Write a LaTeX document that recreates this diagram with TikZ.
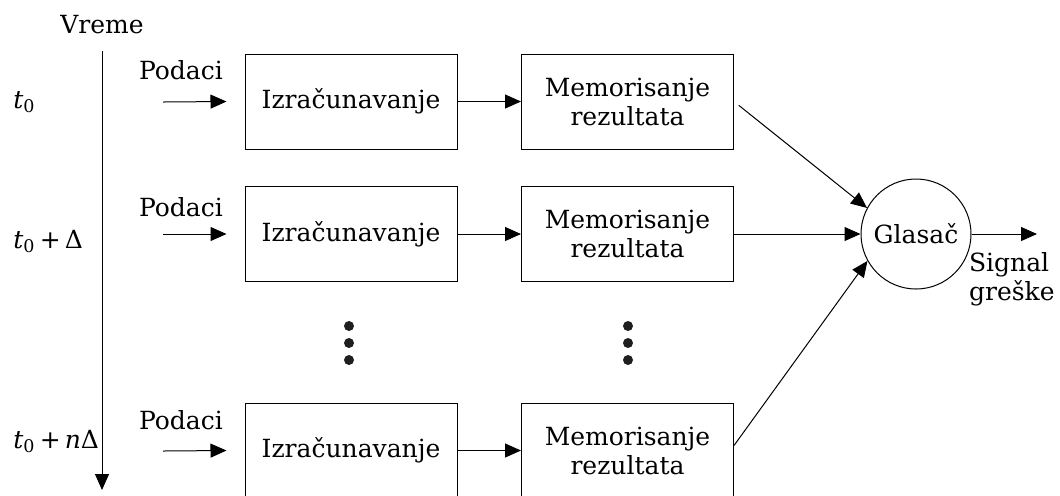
\documentclass[tikz,border=0pt]{standalone}
\usepackage{fontspec}
\setmainfont{DejaVu Serif}
\usetikzlibrary{arrows.meta}

\tikzset{
  blok/.style={draw, line width=0.5pt, minimum width=106pt, minimum height=47.5pt, align=center, inner sep=2pt},
  glasac/.style={draw, circle, line width=0.5pt, minimum size=55pt, inner sep=0pt},
  tacka/.style={circle, fill=black!88, minimum size=5pt, inner sep=0pt},
  strel/.style={-{Triangle[length=8pt,width=7pt]}, line width=0.5pt},
}

\begin{document}
\begin{tikzpicture}[x=0.5pt, y=-0.5pt, font=\fontsize{12.5}{14.5}\selectfont]
  \useasboundingbox (0,0) rectangle (1060,495);
  % vremenska osa i oznake
  \draw
    (102,33) node[anchor=base] (vreme){Vreme}
    (13,108) node[anchor=base west, inner sep=0pt] (t1){\textit{t}\textsubscript{0}}
    (13,248) node[anchor=base west, inner sep=0pt] (t2){\textit{t}\textsubscript{0}\,+\,Δ}
    (13,448) node[anchor=base west, inner sep=0pt] (tn){\textit{t}\textsubscript{0}\,+\,\textit{n}Δ};
  \coordinate (os1) at (102,51);
  \coordinate (os2) at (102,490);
  % ulazi
  \draw
    (181,79) node[anchor=base] (pod1){Podaci}
    (181,216) node[anchor=base] (pod2){Podaci}
    (181,429) node[anchor=base] (podn){Podaci};
  \coordinate (ul1) at (163,102);
  \coordinate (ul2) at (163,234);
  \coordinate (uln) at (163,451);
  % blokovi
  \draw
    (351,101.5) node[blok] (rac1){Izračunavanje}
    (351,234) node[blok] (rac2){Izračunavanje}
    (351,450.5) node[blok] (racn){Izračunavanje}
    (627.5,101.5) node[blok] (mem1){Memorisanje\\rezultata}
    (627.5,234) node[blok] (mem2){Memorisanje\\rezultata}
    (627.5,450.5) node[blok] (memn){Memorisanje\\rezultata}
    (916,234) node[glasac] (glas){Glasač}
    (1055,252) node[anchor=north east, align=left, inner sep=0pt] (greska){Signal\\greške};
  \coordinate (izlaz) at (1037,234);
  % tackice
  \foreach \x/\n in {349/a,628/b}
    \foreach \y/\m in {326/1,343/2,360/3}
      \node[tacka] (dot\n\m) at (\x,\y) {};
  \begin{scope}[strel]
    \draw (os1) to (os2);
    \draw (ul1) to ([xshift=-9pt]rac1.west);
    \draw (ul2) to ([xshift=-9pt]rac2.west);
    \draw (uln) to ([xshift=-9pt]racn.west);
    \draw (rac1) to (mem1);
    \draw (rac2) to (mem2);
    \draw (racn) to (memn);
    \draw[shorten <=3pt] (mem1.east) to (glas.152);
    \draw (mem2) to (glas);
    \draw ([yshift=2.5pt]memn.east) to (glas.209);
    \draw (glas) to (izlaz);
  \end{scope}
\end{tikzpicture}
\end{document}
